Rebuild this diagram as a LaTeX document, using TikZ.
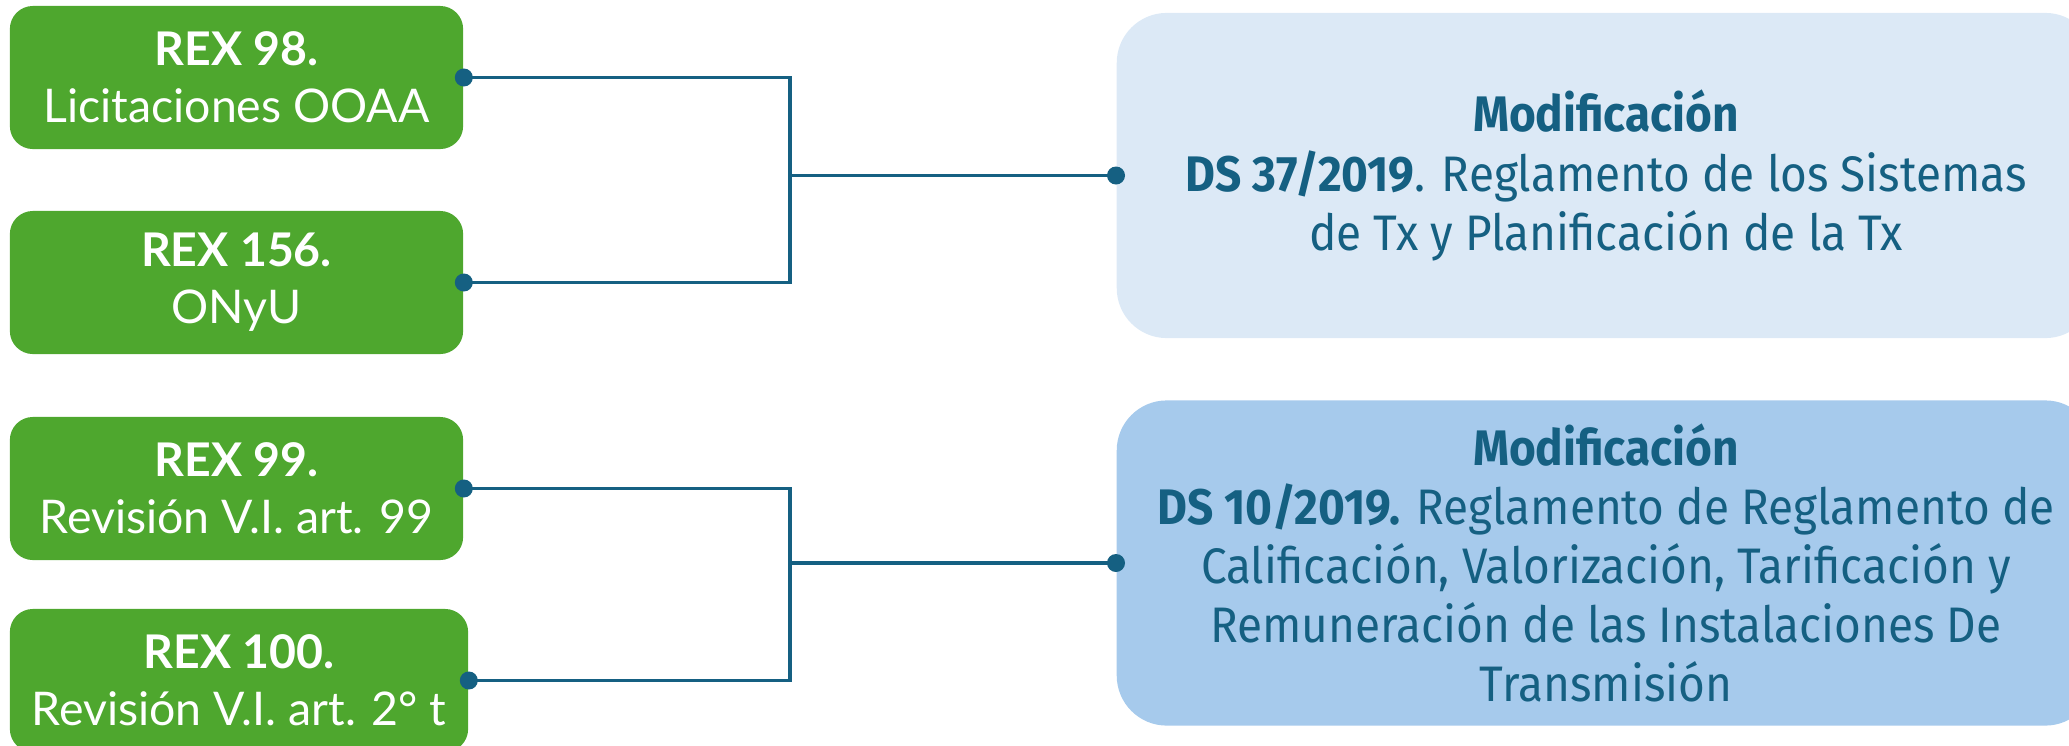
\documentclass[tikz,border=0pt]{standalone}
\usepackage{fontspec}
\setmainfont{Lato}
\newfontfamily\dsfont{Fira Sans}[FakeStretch=0.92]
\definecolor{rexgreen}{HTML}{4EA72E}
\definecolor{dsblue}{HTML}{156082}
\definecolor{dslight}{HTML}{DCE9F6}
\definecolor{dsmid}{HTML}{A6CAEC}
\begin{document}
\begin{tikzpicture}[x=0.01cm, y=-0.01cm,
    rex/.style={rectangle, rounded corners=0.23cm, fill=rexgreen, text=white, minimum width=4.53cm, minimum height=1.43cm, inner sep=0pt, align=center, font=\fontsize{13.2}{16.2}\selectfont},
    ds/.style={rectangle, rounded corners=0.5cm, minimum width=9.78cm, minimum height=3.25cm, inner sep=0pt, align=center, text=dsblue, font=\dsfont\fontsize{14.2}{16.8}\selectfont},
    link/.style={draw=dsblue, line width=1.05pt},
    dot/.style={circle, fill=dsblue, inner sep=0pt, minimum size=0.18cm}]
    \useasboundingbox (0,0) rectangle (2069,745);
    % REX resolutions (left)
    \node[rex] (rex98) at (236.5,77.5) {\textbf{REX 98.}\\Licitaciones OOAA};
    \node[rex] (rex156) at (236.5,282.5) {\textbf{REX 156.}\\ONyU};
    \node[rex] (rex99) at (236.5,488.5) {\textbf{REX 99.}\\Revisión V.I. art. 99};
    \node[rex, minimum width=4.58cm] (rex100) at (239,680.5) {\textbf{REX 100.}\\Revisión V.I. art. 2° t};
    % DS modifications (right)
    \node[ds, fill=dslight] (ds37) at (1606,175.5) {\textbf{Modificación}\\\textbf{DS 37/2019}. Reglamento de los Sistemas\\de Tx y Planificación de la Tx};
    \node[ds, fill=dsmid] (ds10) at (1606,563) {\textbf{Modificación}\\\textbf{DS 10/2019.} Reglamento de Reglamento de\\Calificación, Valorización, Tarificación y\\Remuneración de las Instalaciones De\\Transmisión};
    % junctions
    \coordinate (j37) at (790,175.5);
    \coordinate (j10) at (790,563);
    \draw[link] (rex98.east) -| (j37) |- (rex156.east);
    \draw[link] (j37) -- (ds37.west);
    \draw[link] (rex99.east) -| (j10) |- (rex100.east);
    \draw[link] (j10) -- (ds10.west);
    % end dots
    \foreach \n in {rex98, rex156, rex99, rex100}
        \node[dot] (dot-\n) at (\n.east) {};
    \foreach \n in {ds37, ds10}
        \node[dot] (dot-\n) at (\n.west) {};
\end{tikzpicture}
\end{document}
